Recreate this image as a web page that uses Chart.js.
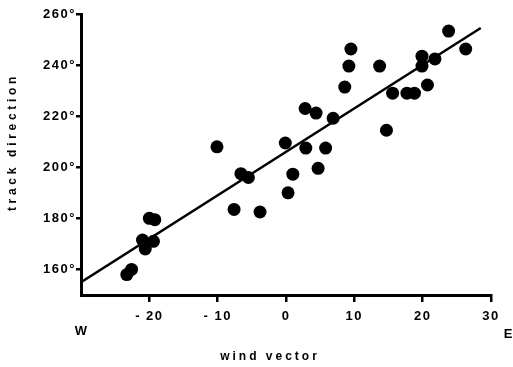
<!DOCTYPE html>
<html>
<head>
<meta charset="utf-8">
<script src="https://cdn.jsdelivr.net/npm/chart.js@4.4.1/dist/chart.umd.min.js"></script>
<style>
  body { margin: 0; background: #fff; }
  #box { width: 513px; height: 367px; position: relative; }
</style>
</head>
<body>
<div id="box"><canvas id="mycanvas"></canvas></div>
<script>
// wind vector (x) vs track direction (y, degrees)
var windX = [-23.3, -22.6, -20, -19.2, -21, -19.4, -20.6, -10.1, -7.6, -6.6, -5.5, -3.8,
  0.3, 1, -0.1, 2.9, 4.7, 5.8, 2.8, 4.4, 6.9, 8.6, 9.2, 9.5, 13.7, 14.7,
  15.6, 17.7, 18.8, 20.7, 19.9, 19.9, 21.8, 23.8, 26.3];
var trackY = [158, 160, 180, 179.5, 171.5, 171, 168, 208, 183.5, 197.5, 196, 182.5,
  190, 197.3, 209.5, 207.5, 199.6, 207.5, 223, 221.2, 219.2, 231.4, 239.6, 246.3, 239.6, 214.5,
  229, 229, 229, 232.2, 243.5, 239.6, 242.4, 253.3, 246.3];
// fitted line end points
var fitX = [-30, 28.5];
var fitY = [155, 254.5];
var xTicks = [-20, -10, 0, 10, 20, 30];
var yTicks = [160, 180, 200, 220, 240, 260];

var pts = [];
for (var i in windX) {
  pts.push({x: windX[i], y: trackY[i]});
}
var fit = [];
for (var j in fitX) {
  fit.push({x: fitX[j], y: fitY[j]});
}

var FONT = 'Liberation Sans, Arial, sans-serif';

var extraText = {
  id: 'extraText',
  beforeDraw: function(chart) {
    chart.ctx.letterSpacing = '1.5px';
  },
  afterDraw: function(chart) {
    var ctx = chart.ctx;
    ctx.save();
    ctx.fillStyle = '#000';
    ctx.textAlign = 'center';
    ctx.textBaseline = 'middle';
    ctx.font = 'bold 12px ' + FONT;
    ctx.letterSpacing = '3px';
    ctx.fillText('wind vector', 270, 357);
    ctx.save();
    ctx.translate(13, 142);
    ctx.rotate(-Math.PI / 2);
    ctx.letterSpacing = '3.7px';
    ctx.fillText('track direction', 0, 0);
    ctx.restore();
    ctx.letterSpacing = '0px';
    ctx.font = 'bold 13px ' + FONT;
    ctx.fillText('W', 81, 331);
    ctx.fillText('E', 508, 334);
    ctx.restore();
  }
};

var ctx = document.getElementById('mycanvas');
var chart = new Chart(ctx, {
  type: 'scatter',
  data: {
    datasets: [
      {
        label: 'points',
        data: pts,
        backgroundColor: '#000',
        borderColor: '#000',
        borderWidth: 0,
        pointRadius: 6.5,
        pointHoverRadius: 6.5
      },
      {
        type: 'line',
        label: 'fit',
        data: fit,
        borderColor: '#000',
        borderWidth: 2.5,
        pointRadius: 0,
        fill: false
      }
    ]
  },
  options: {
    responsive: true,
    maintainAspectRatio: false,
    animation: false,
    layout: { padding: { top: 14, right: 22, left: 0, bottom: 0 } },
    plugins: { legend: { display: false }, tooltip: { enabled: false } },
    scales: {
      x: {
        type: 'linear',
        min: -30,
        max: 30,
        afterBuildTicks: function(s) { s.ticks = xTicks.map(function(v){ return {value: v}; }); },
        afterFit: function(s) { s.height = 72; },
        grid: { drawOnChartArea: false, drawTicks: true, tickLength: 7, color: '#000', lineWidth: 2.5 },
        border: { display: true, color: '#000', width: 3 },
        ticks: {
          color: '#000',
          padding: 7,
          maxRotation: 0,
          font: { family: FONT, size: 13, weight: 'bold' },
          callback: function(v) { return v < 0 ? '- ' + Math.abs(v) : '' + v; }
        }
      },
      y: {
        type: 'linear',
        min: 150,
        max: 260,
        afterBuildTicks: function(s) { s.ticks = yTicks.map(function(v){ return {value: v}; }); },
        afterFit: function(s) { s.width = 81; },
        grid: { drawOnChartArea: false, drawTicks: true, tickLength: 5, color: '#000', lineWidth: 2.5 },
        border: { display: true, color: '#000', width: 3 },
        ticks: {
          color: '#000',
          padding: 0,
          font: { family: FONT, size: 13, weight: 'bold' },
          callback: function(v) { return v + '°'; }
        }
      }
    }
  },
  plugins: [extraText]
});
</script>
</body>
</html>
